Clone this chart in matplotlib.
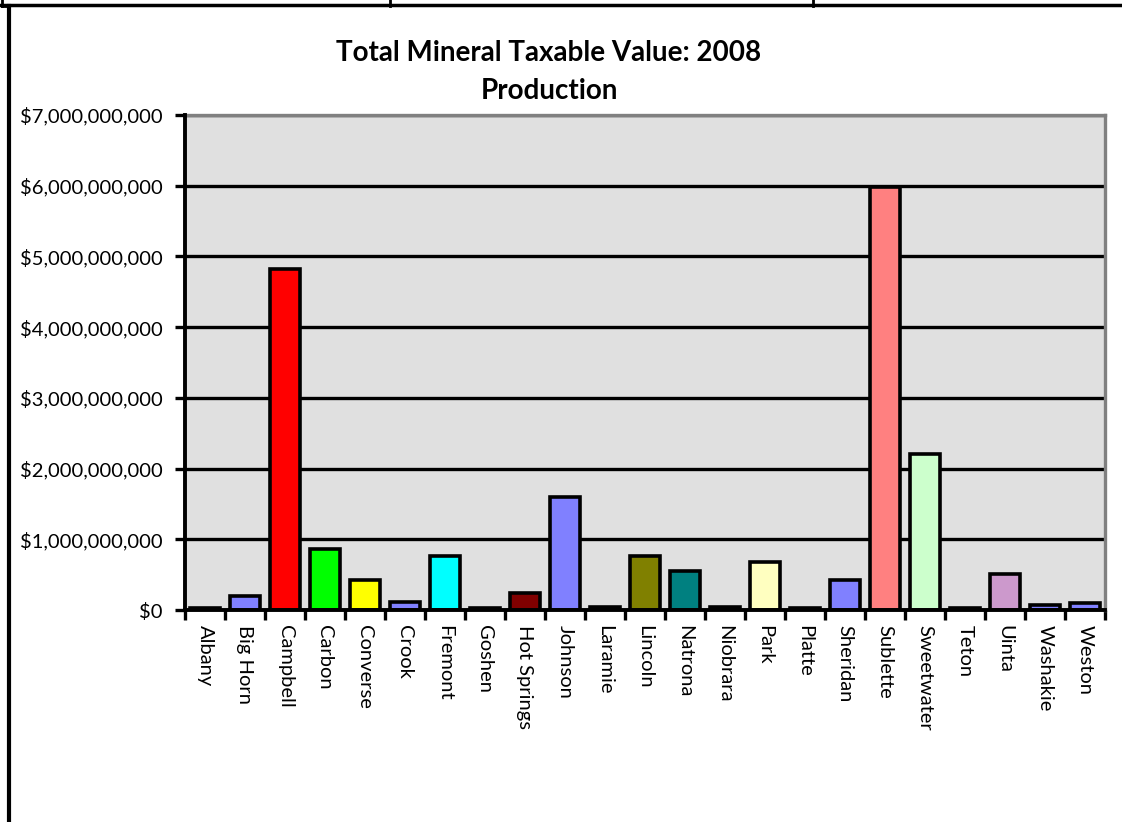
import numpy as np
import matplotlib.pyplot as plt
from matplotlib.lines import Line2D
from matplotlib.ticker import FuncFormatter, MultipleLocator

plt.rcParams['font.family'] = ['Lato', 'DejaVu Sans']

counties = ['Albany', 'Big Horn', 'Campbell', 'Carbon', 'Converse', 'Crook',
            'Fremont', 'Goshen', 'Hot Springs', 'Johnson', 'Laramie', 'Lincoln',
            'Natrona', 'Niobrara', 'Park', 'Platte', 'Sheridan', 'Sublette',
            'Sweetwater', 'Teton', 'Uinta', 'Washakie', 'Weston']
# 2008 production taxable value, dollars
values = [30e6, 200e6, 4.82e9, 860e6, 420e6, 110e6,
          760e6, 30e6, 240e6, 1.60e9, 45e6, 760e6,
          550e6, 45e6, 680e6, 30e6, 420e6, 5.98e9,
          2.20e9, 30e6, 510e6, 70e6, 100e6]
colors = ['#8080FF', '#8080FF', '#FF0000', '#00FF00', '#FFFF00', '#8080FF',
          '#00FFFF', '#8080FF', '#800000', '#8080FF', '#8080FF', '#808000',
          '#008080', '#8080FF', '#FFFFC0', '#8080FF', '#8080FF', '#FF8080',
          '#CCFFCC', '#8080FF', '#CC99CC', '#8080FF', '#8080FF']
title_lines = ['Total Mineral Taxable Value: 2008', 'Production']

W, H = 1122, 822
fig = plt.figure(figsize=(W / 100, H / 100), dpi=100)
ax = fig.add_axes([185 / W, 1 - 610 / H, 920 / W, 495 / H])
ax.set_facecolor('#E0E0E0')

x = np.arange(len(counties))
ax.bar(x, values, width=0.75, color=colors, edgecolor='black', linewidth=2.6, zorder=3)

ax.set_xlim(-0.5, len(counties) - 0.5)
ax.set_ylim(0, 7e9)
ax.yaxis.set_major_locator(MultipleLocator(1e9))
ax.yaxis.set_major_formatter(FuncFormatter(lambda v, p: '${:,.0f}'.format(v)))
ax.grid(axis='y', color='black', linewidth=2.4, zorder=1)

# category boundaries get the tick marks, labels sit at the centres
ax.set_xticks(np.arange(len(counties) + 1) - 0.5)
ax.set_xticklabels([])
ax.set_xticks(x, minor=True)
ax.set_xticklabels(counties, minor=True, rotation=270, fontsize=14.5)
ax.tick_params(axis='x', which='minor', length=0, pad=11)
ax.tick_params(axis='x', which='major', direction='out', length=7, width=2.4)
ax.tick_params(axis='y', direction='out', length=7, width=2.4, labelsize=14.5, pad=9)

for side in ('left', 'bottom'):
    ax.spines[side].set_linewidth(2.8)
    ax.spines[side].set_zorder(4)
for side in ('top', 'right'):
    ax.spines[side].set_color('#808080')
    ax.spines[side].set_linewidth(2.4)

fig.text(549 / W, 1 - 53 / H, title_lines[0], ha='center', va='center',
         fontsize=20, fontweight='bold')
fig.text(549 / W, 1 - 91 / H, title_lines[1], ha='center', va='center',
         fontsize=20, fontweight='bold')

# page table borders around the chart
def page_line(xs, ys, lw):
    fig.add_artist(Line2D([v / W for v in xs], [1 - v / H for v in ys],
                          transform=fig.transFigure, color='black', linewidth=lw))

page_line([0, W], [5, 5], 2.5)
page_line([2, 2], [0, 6], 2)
page_line([390, 390], [0, 6], 2)
page_line([813, 813], [0, 6], 2)
page_line([9, 9], [6, H], 3)
page_line([2, 9], [6, 6], 2)

fig.savefig('out.png', dpi=100)
